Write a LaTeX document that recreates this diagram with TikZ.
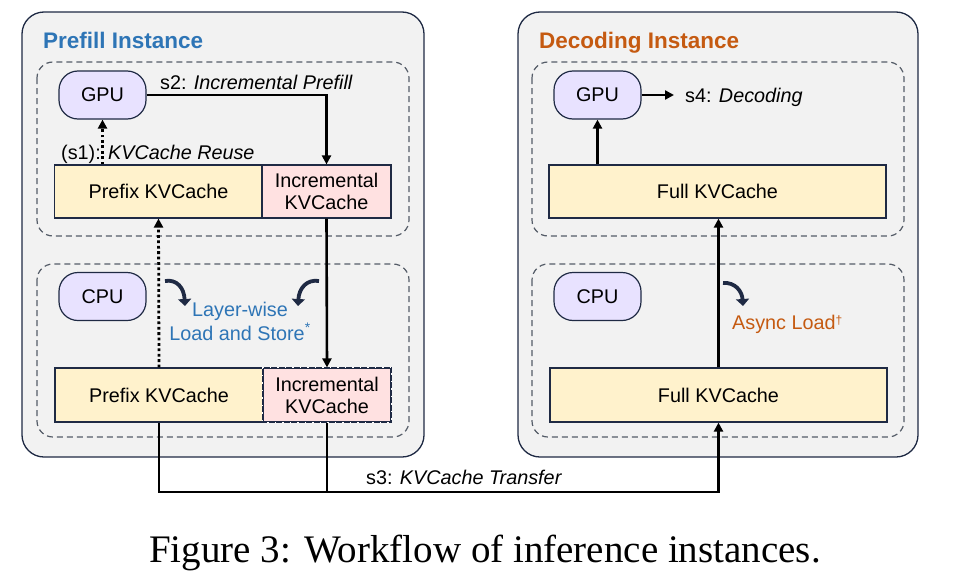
\documentclass[tikz,border=0pt]{standalone}
\usepackage{fontspec}
\setmainfont{Liberation Sans}
\newfontfamily\capfont{Liberation Serif}
\usetikzlibrary{arrows.meta}
\definecolor{navy}{HTML}{1F2A44}
\definecolor{outerfill}{HTML}{F2F2F2}
\definecolor{dashc}{HTML}{555C68}
\definecolor{yell}{HTML}{FFF2CC}
\definecolor{pink}{HTML}{FFE1E1}
\definecolor{lav}{HTML}{E8E2FF}
\definecolor{tblue}{HTML}{2E75B6}
\definecolor{torange}{HTML}{C55A11}
\tikzset{
  x=1pt, y=-1pt,
  outerbox/.style={draw=navy, fill=outerfill, line width=1.3pt, rounded corners=22pt},
  dashbox/.style={draw=dashc, line width=1.2pt, dash pattern=on 6pt off 4pt, rounded corners=16pt},
  txt/.style={font=\fontsize{19.8}{23}\selectfont, inner sep=0pt},
  unit/.style={draw=navy, fill=lav, line width=1.2pt, rounded corners=19pt, minimum width=87pt, minimum height=48pt, inner sep=0pt, font=\fontsize{19.8}{23}\selectfont},
  ybox/.style={draw=navy, fill=yell, line width=1.2pt, inner sep=0pt, font=\fontsize{19.8}{23}\selectfont},
  pbox/.style={draw=navy, fill=pink, line width=1.2pt, inner sep=0pt, align=center, font=\fontsize{19.8}{23}\selectfont},
  conn/.style={draw=black, line width=2.6pt},
  arr/.style={conn, -{Triangle[length=9pt,width=9pt]}},
  dotarr/.style={draw=black, line width=2.8pt, dash pattern=on 2.8pt off 2.6pt, -{Triangle[length=9pt,width=9pt]}},
  curv/.style={draw=navy, line width=3.8pt, -{Triangle[length=7pt,width=13pt]}},
}
\begin{document}
\begin{tikzpicture}
\useasboundingbox (0,0) rectangle (963,570);
% outer boxes
\draw[outerbox] (22,12) rectangle (424,457);
\draw[outerbox] (518,12) rectangle (918,457);
\node[txt, anchor=base west, text=tblue, font=\fontsize{22.5}{26}\selectfont\bfseries] (ptitle) at (43,48) {Prefill Instance};
\node[txt, anchor=base west, text=torange, font=\fontsize{22.5}{26}\selectfont\bfseries] (dtitle) at (539,48) {Decoding Instance};
% dashed boxes
\draw[dashbox] (37,62) rectangle (409,236);
\draw[dashbox] (37,264) rectangle (409,437);
\draw[dashbox] (532,62) rectangle (904,236);
\draw[dashbox] (532,264) rectangle (904,437);
% prefill nodes
\node[unit] (lgpu) at (102.5,95) {GPU};
\node[unit] (lcpu) at (102.5,296.5) {CPU};
\node[ybox, minimum width=208pt, minimum height=53pt] (upre) at (158.5,191.5) {Prefix KVCache};
\node[pbox, minimum width=129pt, minimum height=53pt] (uinc) at (326.5,191.5) {Incremental\\[-1pt]KVCache};
\node[ybox, minimum width=208pt, minimum height=54pt] (lpre) at (159,395) {Prefix KVCache};
\node[pbox, minimum width=128pt, minimum height=54pt] (linc) at (327,395) {Incremental\\[-1pt]KVCache};
\draw[white, line width=0.7pt, dash pattern=on 1.5pt off 6pt] (linc.north west) -- (linc.north east) -- (linc.south east) -- (linc.south west) -- cycle;
% decoding nodes
\node[unit] (rgpu) at (597.5,95) {GPU};
\node[unit] (rcpu) at (597.5,296.5) {CPU};
\node[ybox, minimum width=337pt, minimum height=53pt] (ufull) at (717.5,191.5) {Full KVCache};
\node[ybox, minimum width=337pt, minimum height=54pt] (lfull) at (718.5,395) {Full KVCache};
% connectors prefill
\draw[arr] (lgpu.east) -| (uinc.north);
\node[txt, anchor=base west] (s2) at (160,89) {s2: \textit{Incremental Prefill}};
\draw[dotarr] (upre.north -| lgpu.south) -- (lgpu.south);
\node[txt, anchor=base west] (s1) at (61,159) {(s1): \textit{KVCache Reuse}};
\draw[dotarr] (lpre.north) -- (upre.south);
\draw[arr] (uinc.south) -- (linc.north);
\coordinate (tleft) at (159,492);
\draw[arr] (lpre.south) -- (tleft) -| (lfull.south);
\draw[conn] (linc.south) -- (linc.south |- tleft);
\node[txt, anchor=base west] (s3) at (366,484) {s3: \textit{KVCache Transfer}};
% connectors decoding
\draw[arr] (lfull.north) -- (lfull.north |- ufull.south);
\draw[arr] (ufull.north -| rgpu.south) -- (rgpu.south);
\coordinate (s4end) at (674,95);
\draw[arr] (rgpu.east) -- (s4end);
\node[txt, anchor=base west] (s4) at (685,102) {s4: \textit{Decoding}};
% curved arrows and labels
\draw[curv] (165,281) .. controls (177,279) and (184,288) .. (185,306);
\draw[curv] (319,281) .. controls (307,279) and (299,288) .. (298,306);
\node[txt, align=center, text=tblue] (lws) at (240,321) {Layer-wise\\[1pt]Load and Store\textsuperscript{*}};
\draw[curv] (723,283) .. controls (735,282) and (742,291) .. (743,306);
\node[txt, anchor=base west, text=torange] (async) at (732,329) {Async Load\raisebox{5pt}{\fontsize{12}{13}\selectfont\dag}};
% caption
\node[inner sep=0pt, anchor=base, font=\capfont\fontsize{39}{42}\selectfont] (cap) at (485,562) {Figure 3: Workflow of inference instances.};
\end{tikzpicture}
\end{document}
